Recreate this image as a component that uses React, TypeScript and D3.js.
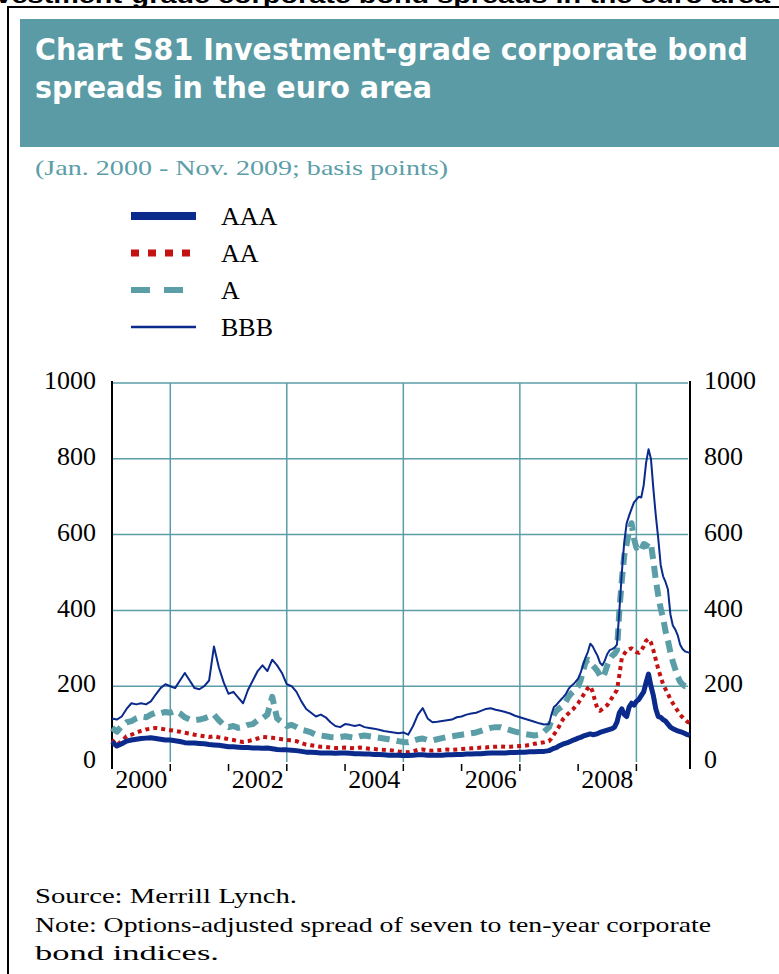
import { useEffect, useRef } from "react";
import * as d3 from "d3";

// monthly samples Jan 2000 .. Jun 2007, then half-monthly Jul 2007 .. Nov 2009
const aaaMonthly = [
  53, 42, 48, 55, 58, 60, 62, 63, 64, 62, 60, 58,
  58, 56, 54, 51, 50, 50, 49, 48, 46, 45, 44, 42,
  40, 40, 39, 38, 38, 37, 37, 36, 37, 35, 33, 32,
  32, 31, 30, 28, 26, 26, 25, 24, 24, 24, 23, 24,
  24, 23, 22, 22, 21, 21, 20, 20, 19, 18, 18, 18,
  17, 17, 18, 19, 19, 18, 18, 18, 18, 19, 19, 20,
  20, 21, 21, 22, 22, 23, 24, 24, 24, 24, 25, 25,
  26, 26, 27, 27, 28, 28,
];
const aaaCrisis = [
  30, 33, 36, 38, 42, 45, 48, 50, 52, 55, 58, 60,
  63, 65, 68, 70, 72, 74, 72, 73, 75, 78, 80, 82,
  84, 86, 88, 92, 105, 130, 140, 125, 120, 145, 155, 150,
  160, 165, 175, 185, 210, 232, 200, 175, 140, 120, 118, 112,
  108, 100, 92, 88, 85, 82, 80, 78, 75, 72, 70,
];
const aaMonthly = [
  58, 45, 55, 68, 72, 78, 82, 86, 88, 90, 88, 86,
  84, 82, 80, 77, 75, 72, 70, 68, 66, 68, 65, 63,
  60, 58, 55, 53, 55, 58, 62, 66, 65, 64, 62, 60,
  58, 57, 55, 50, 46, 44, 42, 40, 40, 38, 37, 37,
  38, 37, 36, 38, 37, 35, 34, 33, 32, 31, 30, 28,
  27, 26, 28, 32, 33, 31, 30, 31, 32, 33, 32, 33,
  34, 35, 36, 37, 38, 38, 40, 40, 41, 40, 40, 41,
  42, 43, 45, 48, 50, 52,
];
const aaCrisis = [
  55, 62, 72, 82, 92, 105, 115, 122, 128, 135, 140, 148,
  155, 165, 175, 185, 195, 200, 185, 160, 140, 135, 140, 145,
  150, 160, 170, 180, 190, 230, 275, 285, 295, 298, 300, 295,
  290, 288, 295, 305, 320, 325, 315, 295, 270, 245, 225, 205,
  192, 180, 165, 155, 145, 135, 125, 118, 112, 106, 104,
];
const aMonthly = [
  90, 80, 95, 105, 108, 115, 120, 118, 125, 130, 128, 132,
  130, 135, 128, 118, 112, 110, 112, 115, 120, 125, 110, 98,
  92, 95, 90, 92, 98, 100, 110, 115, 125, 172, 115, 105,
  95, 98, 92, 85, 82, 78, 72, 70, 68, 66, 65, 66,
  68, 66, 64, 68, 70, 68, 66, 64, 62, 60, 58, 55,
  53, 52, 56, 60, 62, 58, 57, 60, 63, 66, 68, 70,
  72, 74, 76, 78, 82, 86, 90, 92, 92, 88, 84, 80,
  77, 74, 72, 70, 72, 80,
];
const aCrisis = [
  92, 110, 125, 135, 140, 145, 150, 160, 172, 180, 186, 190,
  200, 215, 240, 262, 270, 268, 255, 248, 240, 228, 222, 235,
  255, 270, 280, 285, 295, 400, 480, 545, 575, 610, 630, 590,
  565, 570, 560, 575, 570, 580, 575, 530, 480, 440, 405, 380,
  345, 320, 290, 265, 245, 225, 212, 205, 200, 200, 198,
];
const bbbMonthly = [
  115, 112, 120, 140, 155, 152, 155, 152, 160, 178, 195, 205,
  200, 195, 215, 235, 215, 195, 192, 200, 215, 305, 250, 210,
  180, 185, 170, 155, 190, 215, 240, 255, 240, 270, 255, 235,
  205, 200, 185, 160, 140, 130, 120, 125, 118, 105, 95, 92,
  100, 98, 95, 98, 92, 90, 88, 85, 82, 80, 78, 76,
  78, 72, 95, 125, 142, 115, 105, 106, 108, 110, 112, 118,
  120, 125, 128, 130, 135, 140, 142, 138, 135, 132, 128, 122,
  118, 114, 110, 106, 102, 99,
];
const bbbCrisis = [
  100, 125, 145, 150, 158, 165, 172, 180, 192, 200, 205, 212,
  220, 235, 255, 275, 290, 312, 305, 292, 280, 262, 255, 268,
  285, 295, 298, 302, 310, 400, 500, 580, 630, 650, 668, 685,
  692, 700, 698, 730, 790, 825, 800, 720, 650, 590, 520, 490,
  475, 455, 390, 360, 350, 335, 310, 298, 292, 290, 288,
];

const seriesNames = ["AAA", "AA", "A", "BBB"];
const yTicks = [0, 200, 400, 600, 800, 1000];
const yearLabels = [2000, 2002, 2004, 2006, 2008];
const titleLines = [
  "Chart S81 Investment-grade corporate bond",
  "spreads in the euro area",
];
const subtitle = "(Jan. 2000 - Nov. 2009; basis points)";
const footer = [
  "Source: Merrill Lynch.",
  "Note: Options-adjusted spread of seven to ten-year corporate",
  "bond indices.",
];

const navy = "#0a2a8c";
const red = "#c41212";
const teal = "#5b9ea7";
const serif = "'Liberation Serif', 'Times New Roman', Times, serif";

export default function App() {
  const ref = useRef<SVGSVGElement>(null);

  useEffect(() => {
    const svg = d3.select(ref.current);
    svg.selectAll("*").remove();

    const dates = d3
      .range(aaaMonthly.length)
      .map((i) => 2000 + i / 12)
      .concat(d3.range(aaaCrisis.length).map((k) => 2007.5 + k / 24));

    const series = [
      { name: "AAA", values: aaaMonthly.concat(aaaCrisis) },
      { name: "AA", values: aaMonthly.concat(aaCrisis) },
      { name: "A", values: aMonthly.concat(aCrisis) },
      { name: "BBB", values: bbbMonthly.concat(bbbCrisis) },
    ];

    const style: Record<string, any> = {
      AAA: { color: navy, w: 5, dash: null, lw: 8, ldash: null },
      AA: { color: red, w: 4, dash: "4 4", lw: 7, ldash: "8 9" },
      A: { color: teal, w: 6, dash: "12 7", lw: 6, ldash: "19 14" },
      BBB: { color: navy, w: 2, dash: null, lw: 2.5, ldash: null },
    };

    const x = d3.scaleLinear().domain([2000, 2009.92]).range([112, 690]);
    const y = d3.scaleLinear().domain([0, 1000]).range([762, 383]);

    // heading of the page above the chart box, cut by the top edge
    svg
      .append("text")
      .attr("x", -30)
      .attr("y", 3)
      .attr("textLength", 800)
      .attr("lengthAdjust", "spacingAndGlyphs")
      .style("font-family", "'Liberation Sans', Arial, sans-serif")
      .style("font-weight", "bold")
      .style("font-size", "22px")
      .text("Investment-grade corporate bond spreads in the euro area");

    // frame
    svg
      .append("path")
      .attr("d", "M8,980V7H790")
      .attr("fill", "none")
      .attr("stroke", "#000")
      .attr("stroke-width", 2);

    // title box
    svg
      .append("rect")
      .attr("x", 20)
      .attr("y", 19)
      .attr("width", 770)
      .attr("height", 128)
      .attr("fill", "#5a9ba5");

    svg
      .append("g")
      .selectAll("text")
      .data(titleLines)
      .join("text")
      .attr("x", 35)
      .attr("y", (d, i) => 60 + i * 38)
      .attr("textLength", (d, i) => (i === 0 ? 713 : 397))
      .attr("lengthAdjust", "spacingAndGlyphs")
      .attr("fill", "#fff")
      .style("font-family", "'DejaVu Sans Condensed', 'Liberation Sans Narrow', sans-serif")
      .style("font-weight", "bold")
      .style("font-size", "31px")
      .text((d) => d);

    svg
      .append("text")
      .attr("x", 35)
      .attr("y", 175)
      .attr("textLength", 413)
      .attr("lengthAdjust", "spacingAndGlyphs")
      .attr("fill", teal)
      .style("font-family", serif)
      .style("font-size", "22px")
      .text(subtitle);

    // legend
    const legend = svg
      .append("g")
      .selectAll("g")
      .data(seriesNames)
      .join("g")
      .attr("transform", (d, i) => `translate(0,${216 + i * 37})`);
    legend
      .append("line")
      .attr("x1", 131)
      .attr("x2", 196)
      .attr("stroke", (d) => style[d].color)
      .attr("stroke-width", (d) => style[d].lw)
      .attr("stroke-dasharray", (d) => style[d].ldash);
    legend
      .append("text")
      .attr("x", 221)
      .attr("y", 9)
      .style("font-family", serif)
      .style("font-size", "26px")
      .text((d) => d);

    // grid
    const grid = svg
      .append("g")
      .attr("stroke", teal)
      .attr("stroke-width", 1.5);
    grid
      .selectAll("line.h")
      .data(yTicks.filter((t) => t > 0))
      .join("line")
      .attr("x1", 113)
      .attr("x2", 688)
      .attr("y1", (d) => y(d))
      .attr("y2", (d) => y(d));
    grid
      .selectAll("line.v")
      .data([2001, 2003, 2005, 2007, 2009])
      .join("line")
      .attr("x1", (d) => x(d))
      .attr("x2", (d) => x(d))
      .attr("y1", y(1000))
      .attr("y2", y(0));

    // axes
    const fmt = d3.format("d");
    const yLeft = svg
      .append("g")
      .attr("transform", "translate(112,0)")
      .call(d3.axisLeft(y).tickValues(yTicks).tickFormat(fmt).tickSize(0).tickPadding(16));
    const yRight = svg
      .append("g")
      .attr("transform", "translate(690,0)")
      .call(d3.axisRight(y).tickValues(yTicks).tickFormat(fmt).tickSize(0).tickPadding(14));
    [yLeft, yRight].forEach((g) => {
      g.select(".domain").remove();
      g.selectAll("text")
        .attr("dy", "0.22em")
        .attr("fill", "#000")
        .style("font-family", serif)
        .style("font-size", "26px");
    });

    svg
      .append("g")
      .attr("stroke", "#000")
      .attr("stroke-width", 2)
      .selectAll("line")
      .data([2000, 2009.92])
      .join("line")
      .attr("x1", (d) => x(d))
      .attr("x2", (d) => x(d))
      .attr("y1", y(1000) - 2)
      .attr("y2", 769);

    svg
      .append("g")
      .attr("stroke", "#000")
      .attr("stroke-width", 1.5)
      .selectAll("line")
      .data(d3.range(2001, 2010))
      .join("line")
      .attr("x1", (d) => x(d))
      .attr("x2", (d) => x(d))
      .attr("y1", 764)
      .attr("y2", 771);

    svg
      .append("g")
      .selectAll("text")
      .data(yearLabels)
      .join("text")
      .attr("x", (d) => x(d + 0.5))
      .attr("y", 788)
      .attr("text-anchor", "middle")
      .style("font-family", serif)
      .style("font-size", "26px")
      .text((d) => d);

    // series
    const line = d3
      .line<number>()
      .x((d, i) => x(dates[i]))
      .y((d) => y(d));

    const drawOrder = ["A", "AA", "BBB", "AAA"];
    svg
      .append("g")
      .attr("fill", "none")
      .selectAll("path")
      .data(drawOrder.map((n) => series.find((s) => s.name === n)!))
      .join("path")
      .attr("d", (s) => line(s.values))
      .attr("stroke", (s) => style[s.name].color)
      .attr("stroke-width", (s) => style[s.name].w)
      .attr("stroke-dasharray", (s) => style[s.name].dash)
      .attr("stroke-linejoin", "round");

    // footer
    svg
      .append("g")
      .selectAll("text")
      .data(footer)
      .join("text")
      .attr("x", 35)
      .attr("y", (d, i) => 903 + i * 28.5)
      .attr("textLength", (d, i) => [262, 676, 184][i])
      .attr("lengthAdjust", "spacingAndGlyphs")
      .style("font-family", serif)
      .style("font-size", "22px")
      .text((d) => d);
  }, []);

  return (
    <svg
      ref={ref}
      width={779}
      height={974}
      style={{ position: "absolute", left: 0, top: 0, background: "#fff" }}
    />
  );
}
